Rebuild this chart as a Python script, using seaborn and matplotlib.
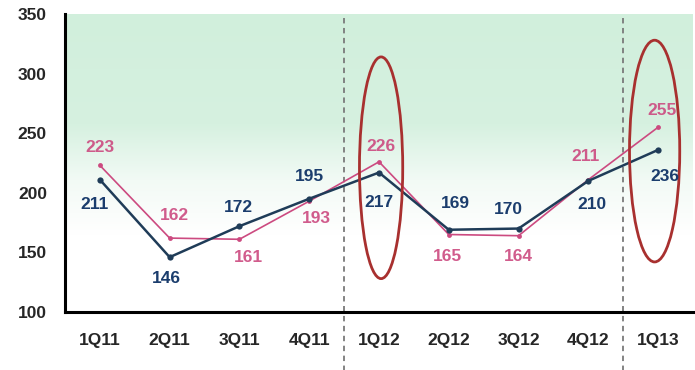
import numpy as np
import pandas as pd
import matplotlib
matplotlib.use("Agg")
import matplotlib.pyplot as plt
import seaborn as sns
from matplotlib.patches import Ellipse
from matplotlib.colors import LinearSegmentedColormap

quarters = ["1Q11", "2Q11", "3Q11", "4Q11", "1Q12", "2Q12", "3Q12", "4Q12", "1Q13"]
navy_vals = [211, 146, 172, 195, 217, 169, 170, 210, 236]
pink_vals = [223, 162, 161, 193, 226, 165, 164, 211, 255]
y_ticks = [100, 150, 200, 250, 300, 350]

# label offsets (pixels) for each point
navy_off = [(-5, -25), (-3, -21), (-1, 19), (0, 22), (0, -30), (7, 26), (-10, 19), (4, -24), (7, -27)]
pink_off = [(0, 18), (5, 23), (9, -18), (7, -17), (2, 15), (-1, -22), (0, -21), (-3, 23), (4, 17)]

sns.set_style("white")
plt.rcParams['font.family'] = ['Liberation Sans', 'DejaVu Sans']

NAVY_LINE = "#1f3c58"
NAVY_TXT = "#1b3d6d"
PINK = "#cc4a80"

fig = plt.figure(figsize=(6.95, 3.7), dpi=100)
ax = fig.add_axes([65/695, 58/370, 628/695, 298/370])

df = pd.DataFrame({"q": list(range(len(quarters))), "navy": navy_vals, "pink": pink_vals})

# background gradient
grad = np.linspace(0, 1, 256).reshape(-1, 1)
cmap = LinearSegmentedColormap.from_list(
    "bg", [(0.0, "#ffffff"), (0.25, "#f2faf5"), (0.5, "#d6f1e0"), (1.0, "#d1efdc")])
ax.imshow(grad, extent=[-0.5, 8.5, 165, 350], origin="lower", aspect="auto", cmap=cmap, zorder=0)

sns.lineplot(data=df, x="q", y="pink", ax=ax, color=PINK, lw=1.2, marker="o", markersize=3.5,
             markeredgewidth=0, zorder=3)
sns.lineplot(data=df, x="q", y="navy", ax=ax, color=NAVY_LINE, lw=1.8, marker="o", markersize=4.5,
             markeredgewidth=0, zorder=4)

for i, v in enumerate(navy_vals):
    ax.annotate(str(v), (i, v), xytext=navy_off[i], textcoords="offset pixels", ha="center", va="center",
                fontsize=12.5, fontweight="bold", color=NAVY_TXT, zorder=6)
for i, v in enumerate(pink_vals):
    ax.annotate(str(v), (i, v), xytext=pink_off[i], textcoords="offset pixels", ha="center", va="center",
                fontsize=12.5, fontweight="bold", color=PINK, alpha=0.9, zorder=6)

# dashed separators
for xv in [3.5, 7.5]:
    ax.axvline(xv, ymin=-0.2, ymax=1.0, color="#7a7a7a", lw=1.3, ls=(0, (3, 2.5)), clip_on=False, zorder=2)

# ellipses
ax.add_patch(Ellipse((4.03, 221), 0.62, 186, fill=False, edgecolor="#a8302f", lw=2.0, zorder=5))
ax.add_patch(Ellipse((7.95, 235), 0.72, 186, fill=False, edgecolor="#a8302f", lw=2.0, zorder=5))

ax.set_xlim(-0.5, 8.5)
ax.set_ylim(100, 350)
ax.set_yticks(y_ticks)
ax.set_yticklabels([str(t) for t in y_ticks], fontsize=12.5, fontweight="bold")
ax.set_xticks(range(len(quarters)))
ax.set_xticklabels(quarters, fontsize=12.5, fontweight="bold")
ax.set_xticks(np.arange(0.5, 8.5, 1), minor=True)
ax.tick_params(axis="x", which="major", length=0, pad=15)
ax.tick_params(axis="x", which="minor", length=4, width=1.5, direction="out", color="black")
ax.tick_params(axis="y", which="major", length=5, width=1.5, direction="out", color="black", pad=8)
ax.set_xlabel("")
ax.set_ylabel("")

for s in ["top", "right"]:
    ax.spines[s].set_visible(False)
for s in ["left", "bottom"]:
    ax.spines[s].set_color("black")
    ax.spines[s].set_linewidth(2.2)

fig.savefig("out.png", dpi=100)
